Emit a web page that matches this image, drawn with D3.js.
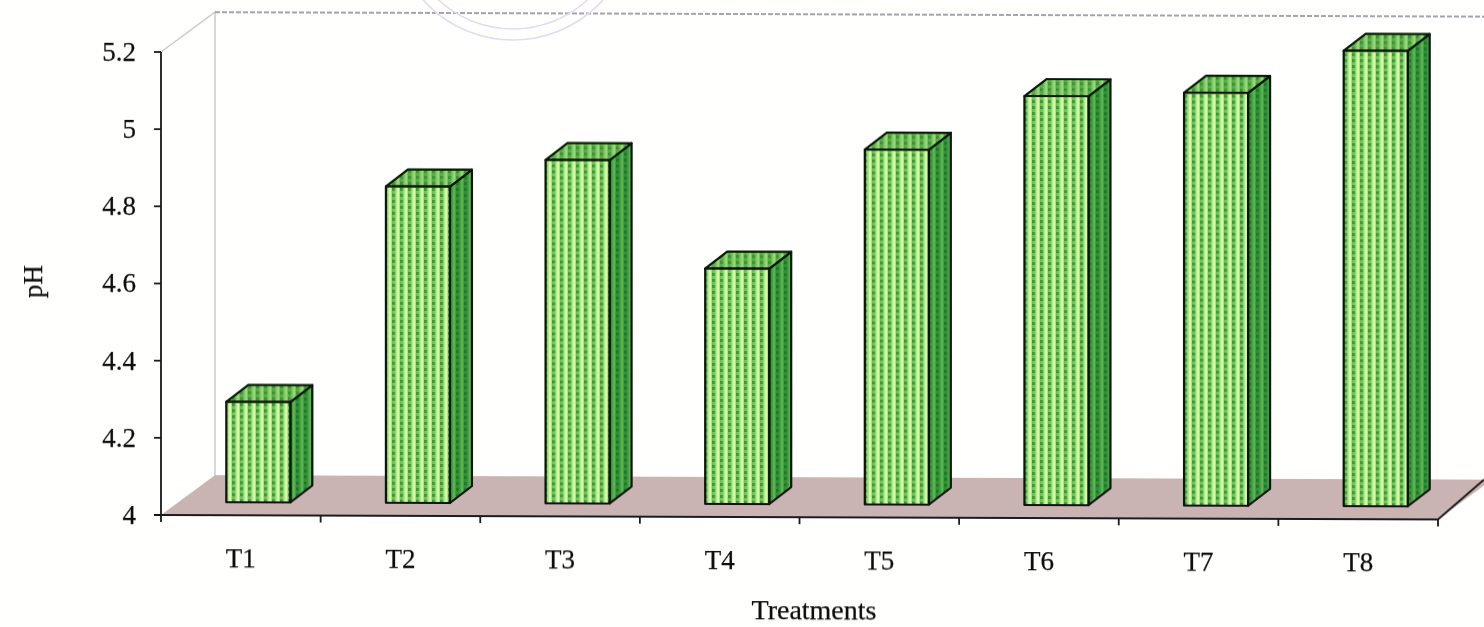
<!DOCTYPE html>
<html><head><meta charset="utf-8"><style>html,body{margin:0;padding:0;background:#fffffd}svg{display:block}text{font-family:"Liberation Serif",serif;fill:#111;stroke:#111;stroke-width:0.25px}</style>
<script src="https://cdn.jsdelivr.net/npm/d3@7/dist/d3.min.js"></script></head><body><svg id="c" width="1484" height="627"></svg>
<script>
const categories=["T1","T2","T3","T4","T5","T6","T7","T8"];
const phValues=[4.26,4.82,4.89,4.61,4.92,5.06,5.07,5.18];
const yTicks=[4,4.2,4.4,4.6,4.8,5,5.2];
const xTitle="Treatments", yTitle="pH";

const svg=d3.select("#c");
const defs=svg.append("defs");
function dots(id,bg,stripe,dot,light){
  const p=defs.append("pattern").attr("id",id).attr("width",8).attr("height",6).attr("patternUnits","userSpaceOnUse");
  p.append("rect").attr("width",8).attr("height",6).attr("fill",bg);
  p.append("rect").attr("x",0).attr("width",3).attr("height",6).attr("fill",stripe);
  p.append("rect").attr("x",0).attr("y",1).attr("width",3).attr("height",3).attr("fill",dot);
  p.append("rect").attr("x",5).attr("width",2).attr("height",6).attr("fill",light);
}
dots("front","#a4e27e","#6cc458","#359c3e","#e2f9ae");
dots("side","#3f9e3e","#338f37","#1f7a2e","#62b552");
dots("top","#74c25a","#58ab48","#3c9440","#9fd877");
defs.append("filter").attr("id","blur").append("feGaussianBlur").attr("stdDeviation",0.6);

const x0=161,x1=1438,yBase=515,yTop=52;
const x=d3.scaleBand().domain(categories).range([x0,x1]);
const y=d3.scaleLinear().domain([4,5.2]).range([yBase,yTop]);
const depth={dx:54,dy:-40};
const g=svg.append("g").attr("filter","url(#blur)")
  .attr("transform",`translate(${x0},${yBase}) skewY(0.2) translate(${-x0},${-yBase})`);

// stamp
const stamp=svg.append("g").attr("fill","none").attr("stroke","#e2dcf2").attr("stroke-width",1.6).attr("filter","url(#blur)");
[121,110].forEach(r=>stamp.append("circle").attr("cx",513).attr("cy",-81).attr("r",r));

// floor
const line=d3.line();
g.append("path").attr("d",line([[x0,yBase],[x1,yBase],[x1+depth.dx,yBase+depth.dy],[x0+depth.dx,yBase+depth.dy]])+"Z").attr("fill","#c9b3b3");
// walls
g.append("path").attr("d",line([[x0,yTop],[x0+depth.dx,yTop+depth.dy],[x0+depth.dx,yBase+depth.dy]])).attr("fill","none").attr("stroke","#c8c8c8").attr("stroke-width",1.4);
g.append("path").attr("d",line([[x0+depth.dx,yTop+depth.dy],[1484,yTop+depth.dy]])).attr("fill","none").attr("stroke","#8d8492").attr("stroke-width",1.3).attr("stroke-dasharray","5 2");

// bars
const bw=64, off=17.5, bdx=22, bdy=-17;
const bars=g.selectAll("g.bar").data(categories.map((c,i)=>({c,v:phValues[i]}))).join("g").attr("class","bar");
const L=d=>x(d.c)+x.bandwidth()/2-bw/2+off, B=()=>y(4)-13, T=d=>y(d.v)-13;
const edge=s=>s.attr("stroke","#0a140a").attr("stroke-width",2.2).attr("stroke-linejoin","round");
bars.append("path").attr("fill","url(#side)").call(edge)
  .attr("d",d=>line([[L(d)+bw,T(d)],[L(d)+bw+bdx,T(d)+bdy],[L(d)+bw+bdx,B()+bdy],[L(d)+bw,B()]])+"Z");
bars.append("path").attr("fill","url(#top)").call(edge)
  .attr("d",d=>line([[L(d),T(d)],[L(d)+bdx,T(d)+bdy],[L(d)+bw+bdx,T(d)+bdy],[L(d)+bw,T(d)]])+"Z");
bars.append("path").attr("fill","url(#front)").call(edge)
  .attr("d",d=>line([[L(d),T(d)],[L(d)+bw,T(d)],[L(d)+bw,B()],[L(d),B()]])+"Z");

// axes
const ax="#1a1a1a";
g.append("line").attr("x1",x0).attr("x2",x0).attr("y1",yTop).attr("y2",yBase).attr("stroke",ax).attr("stroke-width",1.8);
g.append("path").attr("d",line([[x0-7,yBase],[x1,yBase],[x1+46,yBase-40]])).attr("fill","none").attr("stroke",ax).attr("stroke-width",1.8);
g.selectAll("line.yt").data(yTicks).join("line").attr("class","yt").attr("x1",x0-7).attr("x2",x0).attr("y1",d=>y(d)).attr("y2",d=>y(d)).attr("stroke",ax).attr("stroke-width",1.8);
g.selectAll("line.xt").data(d3.range(categories.length+1)).join("line").attr("class","xt")
  .attr("x1",i=>x0+i*x.step()).attr("x2",i=>x0+i*x.step()).attr("y1",yBase).attr("y2",yBase+7).attr("stroke",ax).attr("stroke-width",1.8);
const fs=27;
g.selectAll("text.yl").data(yTicks).join("text").attr("class","yl").attr("x",136).attr("y",d=>y(d)+9).attr("text-anchor","end").attr("font-size",fs).text(d=>d3.format("~g")(d));
g.selectAll("text.xl").data(categories).join("text").attr("class","xl").attr("x",d=>x(d)+x.bandwidth()/2).attr("y",yBase+52).attr("text-anchor","middle").attr("font-size",fs).text(d=>d);
g.append("text").attr("x",814).attr("y",617).attr("text-anchor","middle").attr("font-size",28).text(xTitle);
g.append("text").attr("transform","translate(42,282) rotate(-90)").attr("text-anchor","middle").attr("font-size",fs).text(yTitle);
</script></body></html>
